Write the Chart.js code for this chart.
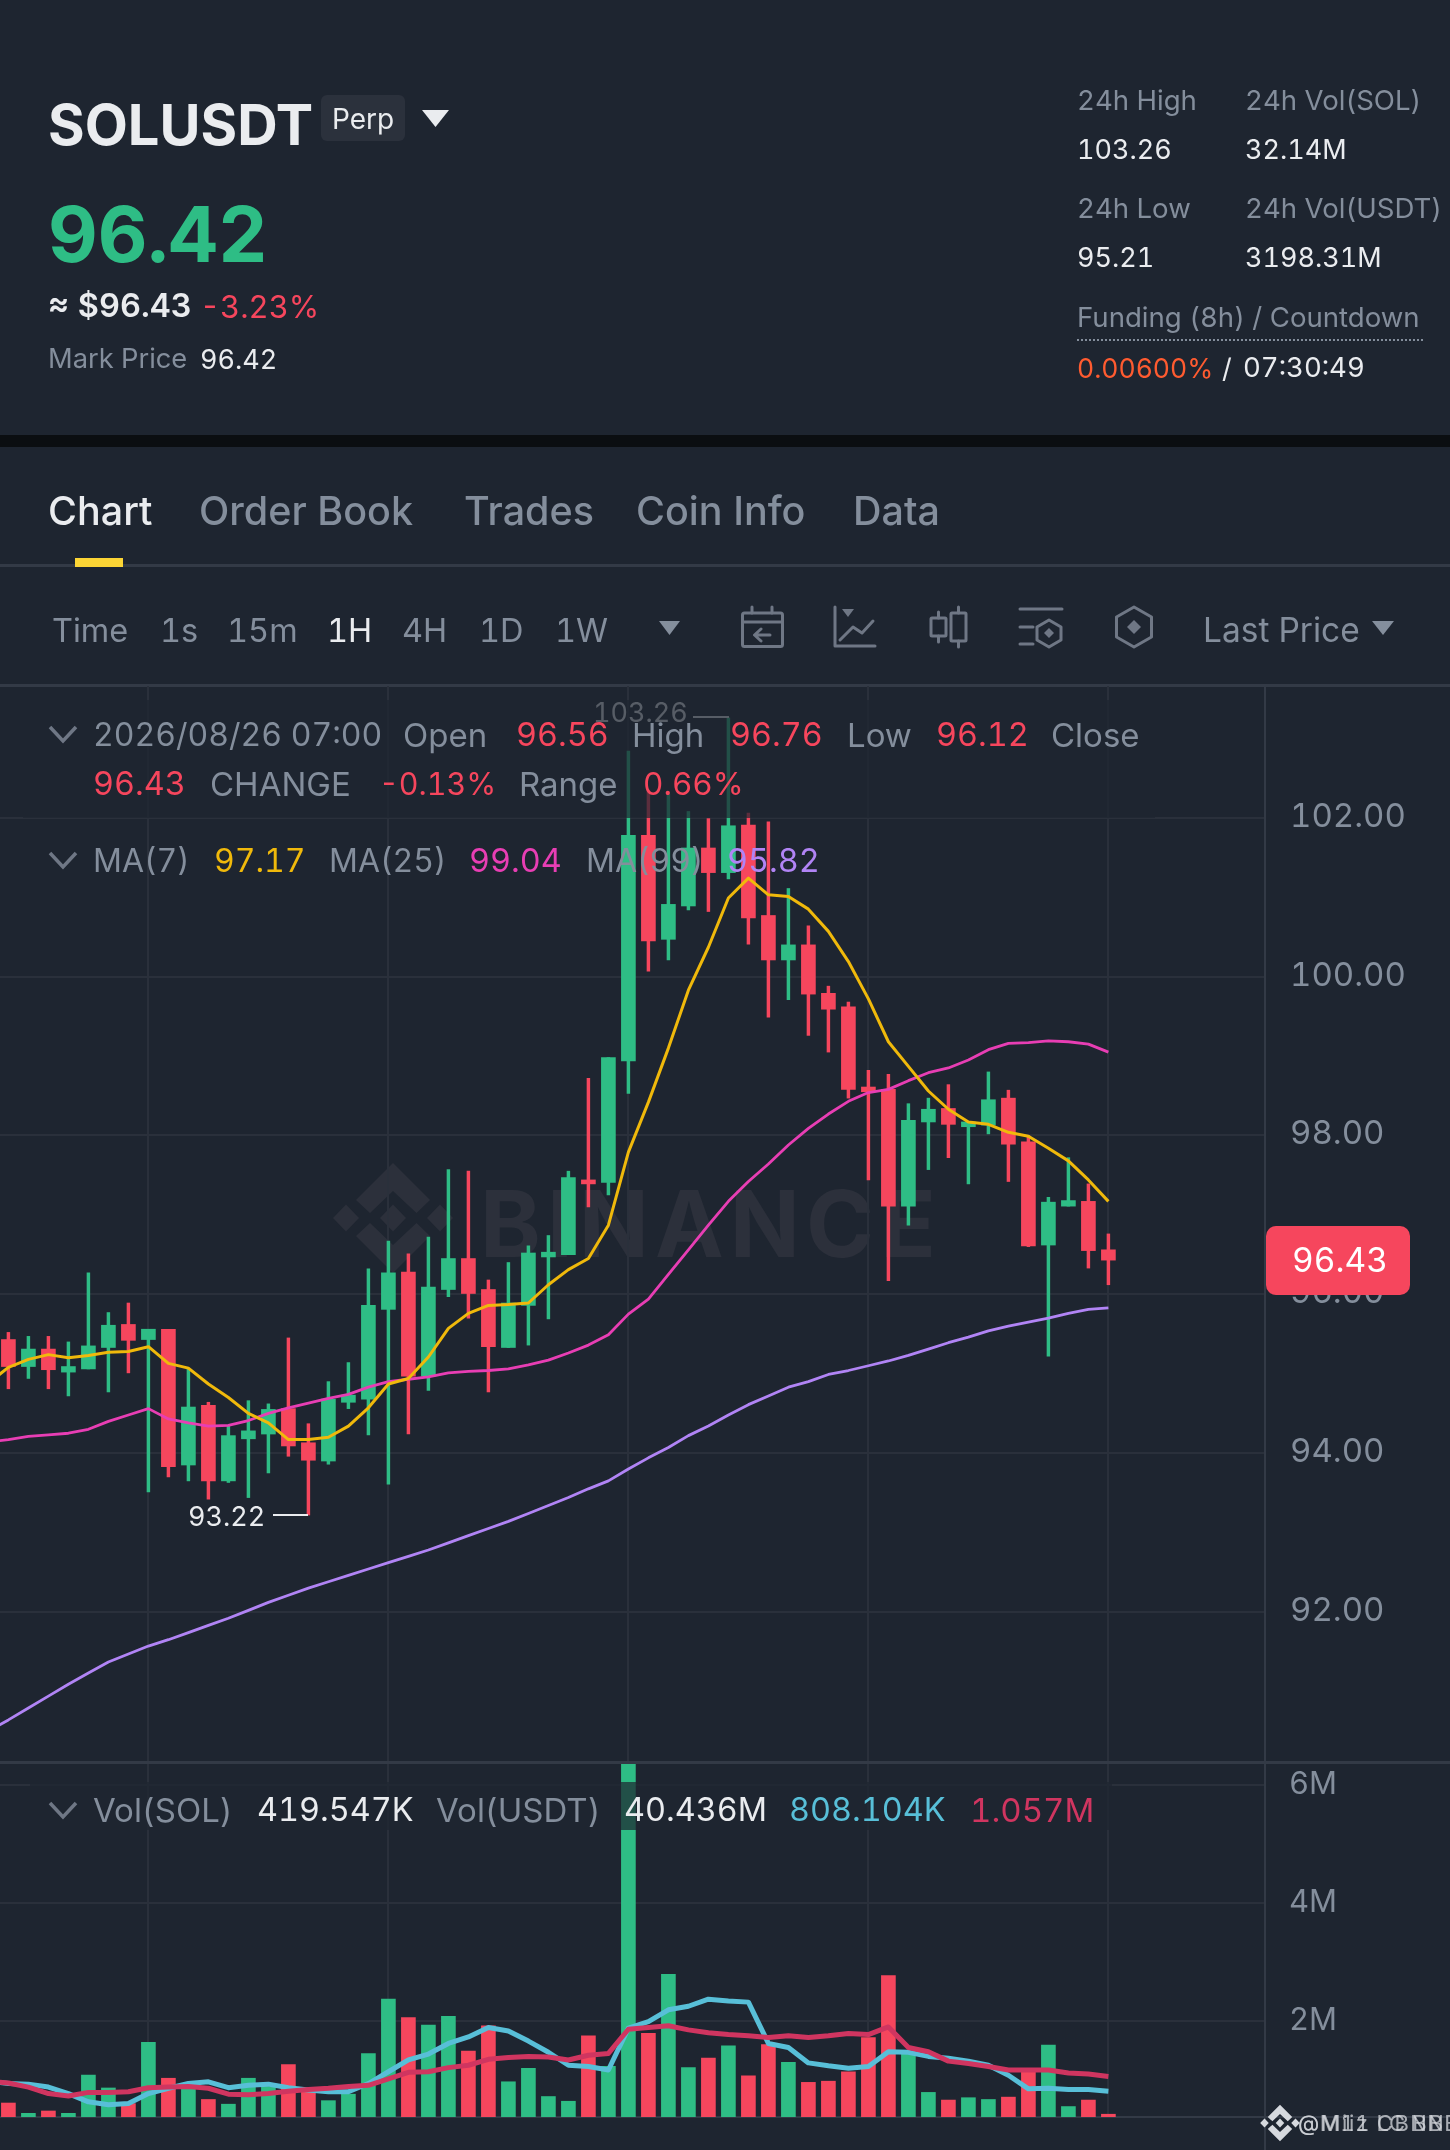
<!DOCTYPE html>
<html><head><meta charset="utf-8">
<script src="https://cdn.jsdelivr.net/npm/chart.js@4"></script>
<style>
html,body{margin:0;padding:0;background:#1e2530}
#page{position:relative;width:1450px;height:2150px;overflow:hidden;background:#1e2530;font-family:Inter,"Noto Sans",sans-serif;color:#848e9c;font-variant-numeric:tabular-nums}
.t{position:absolute;white-space:pre;line-height:1;transform:translateY(-50%);z-index:6}
.h{font-size:27.6px;color:#848e9c}.v{font-size:27px;color:#eaecef}
.tab{font-size:39.5px;font-weight:500;color:#848e9c}
.tm{font-size:32.5px;color:#848e9c}
.lg{font-size:32.4px;color:#848e9c}.r{color:#f6465d}
canvas{position:absolute;left:0;z-index:2}
.box{position:absolute;background:rgba(30,37,48,.72);z-index:4}
.line{position:absolute;z-index:1}
svg.full{position:absolute;left:0;top:0;width:1450px;height:2150px}
</style></head><body>
<div id="page">
<div class="line" style="left:0;top:435px;width:1450px;height:12px;background:#0b0e11"></div>
<div class="line" style="left:0;top:564px;width:1450px;height:3px;background:#333a46"></div>
<div class="line" style="left:75px;top:558px;width:48px;height:9px;background:#fcd535;z-index:3"></div>
<div class="line" style="left:0;top:684px;width:1450px;height:3px;background:#333a46"></div>
<div class="line" style="left:1264px;top:686px;width:2px;height:1464px;background:#333a46;z-index:3"></div>
<div class="line" style="left:0;top:1761px;width:1450px;height:3px;background:#333a46;z-index:3"></div>
<div class="line" style="left:0;top:2116px;width:1450px;height:2px;background:#333a46;z-index:1"></div>

<svg class="full" style="z-index:1" viewBox="0 0 1450 2150">
 <defs><g id="bn"><polygon points="393,1163 430,1200 416.5,1213 393,1191 370,1213 356,1200"/><polygon points="393,1273 430,1236 416.5,1223 393,1245 370,1223 356,1236"/><polygon points="346,1204.5 359,1218 346,1231.5 333,1218"/><polygon points="393,1204.5 406,1218 393,1231.5 380,1218"/><polygon points="440,1204.5 453,1218 440,1231.5 427,1218"/></g></defs>
 <use href="#bn" fill="#2c303b"/>
 <text x="480" y="1257" font-family="Inter" font-weight="700" font-size="92" fill="#2c303b" textLength="456" lengthAdjust="spacing">BINANCE</text>
</svg>
<canvas id="priceChart" width="1450" height="1076" style="top:686px;width:1450px;height:1076px"></canvas>
<canvas id="volChart" width="1450" height="388" style="top:1762px;width:1450px;height:388px"></canvas>

<svg class="full" style="z-index:3" viewBox="0 0 1450 2150">
 <g fill="none" stroke="#6f7785" stroke-width="3" stroke-linejoin="round" stroke-linecap="round">
  <rect x="742.5" y="613" width="40" height="33.5" rx="2"/><path d="M743 622H782M752 607V613M772 607V613M770 635H755M761 629L754.500 635L761 641"/>
  <path d="M835 607V646H875M840 640L853 627L862 633L873 621"/>
  <rect x="931" y="618" width="15" height="18" rx="1"/><rect x="951" y="613" width="15" height="28" rx="1"/><path d="M938.500 612V618M938.500 636V642M958.500 607V613M958.500 641V647"/>
  <path d="M1020 609H1062M1020 627H1033M1020 644H1033M1049 620L1061 627V640L1049 647L1037 640V627Z"/>
  <path d="M1134 607L1151.500 617V637L1134 647L1116.500 637V617Z"/>
 </g>
 <g fill="#6f7785"><polygon points="842,609 854,609 848,617"/><polygon points="1049,628 1054,633 1049,638 1044,633"/><polygon points="1134,620 1141,627 1134,634 1127,627"/></g>
 <g fill="#848e9c"><polygon points="659,621 680,621 669.500,635"/><polygon points="1372,621 1394,621 1383,635"/></g>
 <polygon fill="#eaecef" points="422,110 449,110 435.500,127"/>
 <path d="M1077 340H1423" stroke="#848e9c" stroke-width="2" stroke-dasharray="2 2"/>
 <path d="M273 1515H308" stroke="#eaecef" stroke-width="2"/><path d="M693 717H729" stroke="#eaecef" stroke-width="2"/>
</svg>
<svg class="full" style="z-index:6" viewBox="0 0 1450 2150"><path fill="none" stroke="#6f7785" stroke-width="3.500" d="M50 727L63 741L76 727M50 853L63 867L76 853M50 1803L63 1817L76 1803"/></svg>

<!-- header -->
<div class="t" style="left:48px;top:125px;font-size:56px;font-weight:700;color:#eaecef">SOLUSDT</div>
<div class="line" style="left:321px;top:95px;width:84px;height:46px;border-radius:6px;background:#2b313c;z-index:3"></div>
<div class="t" style="left:332px;top:119px;font-size:28px;color:#eaecef">Perp</div>
<div class="t" style="left:48px;top:234px;font-size:77px;font-weight:700;color:#2ebd85">96.42</div>
<div class="t" style="left:48px;top:306px;font-size:32.500px;font-weight:600;color:#eaecef">≈ $96.43</div>
<div class="t r" style="left:200px;top:306px;font-size:31px">-3.23%</div>
<div class="t h" style="left:48px;top:359px;font-size:27.300px">Mark Price</div>
<div class="t v" style="left:200px;top:359px">96.42</div>
<div class="t h" style="left:1077px;top:101px">24h High</div><div class="t h" style="left:1245px;top:101px">24h Vol(SOL)</div>
<div class="t v" style="left:1077px;top:149px">103.26</div><div class="t v" style="left:1245px;top:149px">32.14M</div>
<div class="t h" style="left:1077px;top:209px">24h Low</div><div class="t h" style="left:1245px;top:209px">24h Vol(USDT)</div>
<div class="t v" style="left:1077px;top:257px">95.21</div><div class="t v" style="left:1245px;top:257px">3198.31M</div>
<div class="t h" style="left:1077px;top:318px">Funding (8h) / Countdown</div>
<div class="t v" style="left:1077px;top:368px;color:#ff5b30;font-size:26.500px">0.00600%</div>
<div class="t v" style="left:1222px;top:368px">/</div><div class="t v" style="left:1243px;top:368px;font-size:27.500px">07:30:49</div>
<!-- tabs -->
<div class="t tab" style="left:48px;top:512px;color:#eaecef">Chart</div>
<div class="t tab" style="left:199px;top:512px">Order Book</div>
<div class="t tab" style="left:464px;top:512px">Trades</div>
<div class="t tab" style="left:636px;top:512px">Coin Info</div>
<div class="t tab" style="left:853px;top:512px">Data</div>
<div class="t tm" style="left:52px;top:631px">Time</div>
<div class="t tm" style="left:160px;top:631px">1s</div>
<div class="t tm" style="left:227px;top:631px">15m</div>
<div class="t tm" style="left:327px;top:631px;color:#eaecef">1H</div>
<div class="t tm" style="left:402px;top:631px">4H</div>
<div class="t tm" style="left:479px;top:631px">1D</div>
<div class="t tm" style="left:555px;top:631px">1W</div>
<div class="t tm" style="left:1203px;top:631px;font-size:33.500px">Last Price</div>
<!-- extreme markers, below the legend veil -->
<div class="t" style="left:188px;top:1516px;font-size:27px;color:#eaecef;z-index:3">93.22</div>
<div class="t" style="left:593px;top:712px;font-size:27px;color:#eaecef;z-index:3">103.26</div>
<!-- legends -->
<div class="box" style="left:23px;top:700px;width:1132px;height:118px"></div>
<div class="box" style="left:30px;top:1782px;width:1082px;height:48px"></div>
<div class="t lg" style="left:93px;top:735px;font-size:32px">2026/08/26 07:00</div>
<div class="t lg" style="left:403px;top:735px;font-size:33px">Open</div><div class="t lg r" style="left:516px;top:735px">96.56</div>
<div class="t lg" style="left:632px;top:735px;font-size:33px">High</div><div class="t lg r" style="left:730px;top:735px">96.76</div>
<div class="t lg" style="left:847px;top:735px;font-size:33px">Low</div><div class="t lg r" style="left:936px;top:735px">96.12</div>
<div class="t lg" style="left:1051px;top:735px;font-size:33px">Close</div>
<div class="t lg r" style="left:93px;top:784px">96.43</div>
<div class="t lg" style="left:210px;top:784px;font-size:33px">CHANGE</div><div class="t lg r" style="left:379px;top:784px;font-size:30.500px">-0.13%</div>
<div class="t lg" style="left:519px;top:784px;font-size:33px">Range</div><div class="t lg r" style="left:643px;top:784px;font-size:31.500px">0.66%</div>
<div class="t lg" style="left:93px;top:861px;font-size:32px">MA(7)</div><div class="t lg" style="left:214px;top:861px;color:#f0b90b;font-size:32px">97.17</div>
<div class="t lg" style="left:329px;top:861px;font-size:32px">MA(25)</div><div class="t lg" style="left:469px;top:861px;color:#e83eb4">99.04</div>
<div class="t lg" style="left:586px;top:861px;font-size:32px">MA(99)</div><div class="t lg" style="left:727px;top:861px;color:#b184f5">95.82</div>
<div class="t lg" style="left:93px;top:1810px;font-size:33px">Vol(SOL)</div><div class="t lg" style="left:257px;top:1810px;color:#eaecef">419.547K</div>
<div class="t lg" style="left:436px;top:1810px;font-size:33px">Vol(USDT)</div><div class="t lg" style="left:624px;top:1810px;color:#eaecef">40.436M</div>
<div class="t lg" style="left:789px;top:1810px;color:#58bfd8">808.104K</div><div class="t lg" style="left:970px;top:1810px;color:#d03560;font-size:33px">1.057M</div>
<!-- price tag -->
<div class="line" style="left:1266px;top:1226px;width:144px;height:69px;border-radius:10px;background:#f6465d;z-index:5"></div>
<div class="t" style="left:1292px;top:1261px;font-size:33.500px;color:#fff">96.43</div>
<!-- credit -->
<svg class="full" style="z-index:6" viewBox="0 0 1450 2150"><g transform="translate(1280 2123) scale(.33) translate(-393 -1218)" fill="#d6d9de"><use href="#bn"/></g></svg>
<div class="t" style="left:1298px;top:2123px;font-size:22px;color:#d6d9de;letter-spacing:1.5px;opacity:.75">@Miiz CBNB</div>
<div class="t" style="left:1298px;top:2123px;font-size:22px;color:#d6d9de;letter-spacing:.6px;opacity:.75">@M11 LC BNB</div>
</div>
<script>
// hourly slots; the first one lies just off the left edge and only feeds the lines
const hours=["08/23 23:00","08/24 00:00","08/24 01:00","08/24 02:00","08/24 03:00","08/24 04:00","08/24 05:00","08/24 06:00","08/24 07:00","08/24 08:00","08/24 09:00","08/24 10:00","08/24 11:00","08/24 12:00","08/24 13:00","08/24 14:00","08/24 15:00","08/24 16:00","08/24 17:00","08/24 18:00","08/24 19:00","08/24 20:00","08/24 21:00","08/24 22:00","08/24 23:00","08/25 00:00","08/25 01:00","08/25 02:00","08/25 03:00","08/25 04:00","08/25 05:00","08/25 06:00","08/25 07:00","08/25 08:00","08/25 09:00","08/25 10:00","08/25 11:00","08/25 12:00","08/25 13:00","08/25 14:00","08/25 15:00","08/25 16:00","08/25 17:00","08/25 18:00","08/25 19:00","08/25 20:00","08/25 21:00","08/25 22:00","08/25 23:00","08/26 00:00","08/26 01:00","08/26 02:00","08/26 03:00","08/26 04:00","08/26 05:00","08/26 06:00","08/26 07:00"];
const opens=[95.43,95.09,95.31,95.02,95.06,95.33,95.62,95.43,95.56,93.85,94.60,93.65,94.18,94.24,94.56,94.13,93.90,94.64,94.68,95.81,96.28,94.97,96.06,96.45,96.06,95.33,95.86,96.47,96.50,97.44,97.41,98.94,101.78,100.47,100.89,101.62,101.31,101.91,100.77,100.21,100.40,99.79,99.62,98.61,98.58,97.11,98.17,98.34,98.11,98.13,98.47,97.92,96.62,97.11,97.17,96.56];
const closes=[95.09,95.31,95.05,95.09,95.35,95.61,95.42,95.56,93.83,94.58,93.65,94.22,94.28,94.55,94.09,93.91,94.68,94.73,95.86,96.27,94.97,96.09,96.45,96.01,95.34,95.89,96.52,96.53,97.47,97.39,98.98,101.78,100.45,100.91,101.62,101.31,101.90,100.74,100.21,100.40,99.78,99.59,98.58,98.55,97.11,98.19,98.33,98.14,98.17,98.45,97.89,96.61,97.16,97.18,96.55,96.43];
const highs=[95.52,95.47,95.47,95.40,96.27,95.77,95.89,95.56,95.56,95.06,94.64,94.35,94.66,94.62,95.45,94.37,94.90,95.14,96.32,96.67,96.51,96.72,97.57,97.55,96.18,96.40,96.61,96.74,97.55,98.72,98.98,102.84,102.35,102.30,102.08,101.99,103.26,102.06,101.95,101.11,100.64,99.88,99.68,98.82,98.77,98.40,98.47,98.64,98.17,98.80,98.57,98.00,97.22,97.72,97.39,96.76];
const lows=[94.81,94.94,94.81,94.72,95.06,94.77,95.01,93.51,93.70,93.65,93.42,93.63,93.44,93.75,93.96,93.22,93.86,94.56,94.23,93.61,94.24,94.79,95.97,95.70,94.77,95.33,95.36,95.69,96.50,97.10,97.25,98.53,100.07,100.21,100.84,100.82,101.23,100.41,99.49,99.71,99.26,99.05,98.47,97.44,96.17,96.87,97.57,97.72,97.39,98.02,97.42,96.60,95.22,97.11,96.33,96.12];
const ma7=[94.88,95.08,95.18,95.24,95.20,95.23,95.27,95.28,95.34,95.13,95.07,94.87,94.70,94.50,94.38,94.17,94.17,94.20,94.34,94.57,94.87,94.94,95.21,95.57,95.76,95.86,95.87,95.89,96.12,96.31,96.45,96.87,97.79,98.42,99.10,99.83,100.37,100.99,101.24,101.03,101.01,100.85,100.57,100.19,99.72,99.18,98.87,98.56,98.33,98.17,98.14,98.04,97.99,97.84,97.68,97.44,97.17];
const ma25=[94.14,94.17,94.21,94.23,94.25,94.30,94.40,94.48,94.56,94.43,94.38,94.34,94.35,94.41,94.50,94.57,94.63,94.69,94.74,94.83,94.90,94.93,94.96,95.01,95.03,95.04,95.06,95.11,95.17,95.26,95.36,95.49,95.75,95.94,96.25,96.56,96.87,97.17,97.42,97.64,97.88,98.09,98.27,98.43,98.54,98.58,98.69,98.79,98.85,98.95,99.08,99.16,99.17,99.19,99.18,99.15,99.05];
const ma99=[90.50,90.64,90.79,90.94,91.09,91.23,91.37,91.47,91.57,91.65,91.74,91.83,91.92,92.02,92.12,92.21,92.30,92.38,92.46,92.54,92.62,92.70,92.78,92.87,92.96,93.05,93.14,93.24,93.34,93.44,93.55,93.65,93.80,93.94,94.07,94.22,94.34,94.48,94.61,94.72,94.83,94.90,94.99,95.04,95.10,95.16,95.23,95.31,95.39,95.46,95.54,95.60,95.65,95.70,95.76,95.81,95.83];
const volumes=[0.61,0.435,0.475,0.435,1.085,0.865,0.60,1.64,1.03,0.93,0.67,0.59,1.03,0.89,1.26,0.83,0.65,0.76,1.45,2.37,2.06,1.93,2.08,1.49,1.92,0.97,1.20,0.72,0.64,1.75,1.23,6.43,1.79,2.79,1.21,1.37,1.58,1.07,1.60,1.30,0.96,0.98,1.14,1.72,2.77,1.48,0.79,0.66,0.70,0.67,0.71,1.14,1.59,0.55,0.66,0.42];
const volMaFast=[0.98,0.94,0.93,0.88,0.77,0.63,0.58,0.60,0.77,0.86,0.94,0.97,0.87,0.91,0.93,0.87,0.83,0.80,0.80,0.94,1.14,1.34,1.44,1.62,1.73,1.89,1.83,1.66,1.47,1.25,1.23,1.17,1.88,1.99,2.19,2.25,2.37,2.34,2.32,1.62,1.55,1.29,1.24,1.20,1.23,1.48,1.47,1.40,1.37,1.32,1.25,1.08,0.85,0.86,0.84,0.84,0.81];
const volMaSlow=[0.98,0.95,0.88,0.77,0.73,0.79,0.79,0.80,0.87,0.88,0.89,0.86,0.76,0.75,0.77,0.81,0.84,0.86,0.89,0.91,1.02,1.13,1.14,1.21,1.25,1.35,1.38,1.40,1.39,1.34,1.42,1.45,1.86,1.89,1.92,1.85,1.80,1.77,1.75,1.72,1.75,1.72,1.75,1.79,1.77,1.90,1.55,1.48,1.32,1.28,1.23,1.17,1.17,1.17,1.12,1.10,1.06];
const priceTicks=[92,94,96,98,100,102];
const volTicks=[2,4,6];
const gridHours=["08/24 07:00","08/24 19:00","08/25 07:00","08/25 19:00","08/26 07:00"];

const UP='#2ebd85',DOWN='#f6465d',GRID='#2a303b',AXIS='#848e9c';
const slot=i=>i-1;                 // hours[0] is slot -1
const candleAt=i=>slot(i+1);
const colorOf=closes.map((c,i)=>c>=opens[i]?UP:DOWN);
const lineOf=(arr,color,w,order)=>({type:'line',data:arr.map((v,i)=>({x:slot(i),y:v})),borderColor:color,borderWidth:w,pointRadius:0,tension:0,order,borderJoinStyle:'round'});
const xScale=()=>({type:'linear',min:-0.42,max:62.83,offset:false,
  afterBuildTicks:s=>{s.ticks=gridHours.map(h=>({value:slot(hours.indexOf(h))}))},
  grid:{color:GRID,lineWidth:2,drawTicks:false,offset:false},border:{display:false},ticks:{display:false}});
const fit=s=>{s.width=185;s.paddingTop=0;s.paddingBottom=0};

new Chart(document.getElementById('priceChart'),{
  type:'bar',
  data:{datasets:[
    {label:'wick',data:closes.map((c,i)=>({x:candleAt(i),y:[lows[i],highs[i]]})),backgroundColor:colorOf,barThickness:2.8,grouped:false,order:6},
    {label:'body',data:closes.map((c,i)=>({x:candleAt(i),y:[opens[i],c]})),backgroundColor:colorOf,barThickness:14,grouped:false,order:5},
    lineOf(ma99,'#b184f5',2.8,3),lineOf(ma25,'#e83eb4',2.8,2),lineOf(ma7,'#f0b90b',3,1)
  ]},
  options:{responsive:false,animation:false,devicePixelRatio:1,layout:{padding:0},
    plugins:{legend:{display:false},tooltip:{enabled:false}},
    scales:{x:xScale(),y:{position:'right',min:90.11,max:103.66,afterFit:fit,
      afterBuildTicks:s=>{s.ticks=priceTicks.map(v=>({value:v}))},
      grid:{color:GRID,lineWidth:2,drawTicks:false},border:{display:false},
      ticks:{color:AXIS,padding:25,labelOffset:-1,font:{family:'Inter',size:33},callback:v=>Number(v).toFixed(2)}}}}
});
new Chart(document.getElementById('volChart'),{
  type:'bar',
  data:{datasets:[
    {label:'vol',data:volumes.map((v,i)=>({x:candleAt(i),y:v})),backgroundColor:colorOf,barThickness:14,grouped:false,order:5},
    lineOf(volMaSlow,'#d03560',5,1),lineOf(volMaFast,'#58bfd8',5,2)
  ]},
  options:{responsive:false,animation:false,devicePixelRatio:1,layout:{padding:{bottom:33}},
    plugins:{legend:{display:false},tooltip:{enabled:false}},
    scales:{x:xScale(),y:{position:'right',min:0.373,max:6.39,beginAtZero:false,afterFit:fit,
      afterBuildTicks:s=>{s.ticks=volTicks.map(v=>({value:v}))},
      grid:{color:GRID,lineWidth:2,drawTicks:false},border:{display:false},
      ticks:{color:AXIS,padding:24,labelOffset:0,font:{family:'Inter',size:31},callback:v=>v+'M'}}}}
});
</script>
</body></html>
